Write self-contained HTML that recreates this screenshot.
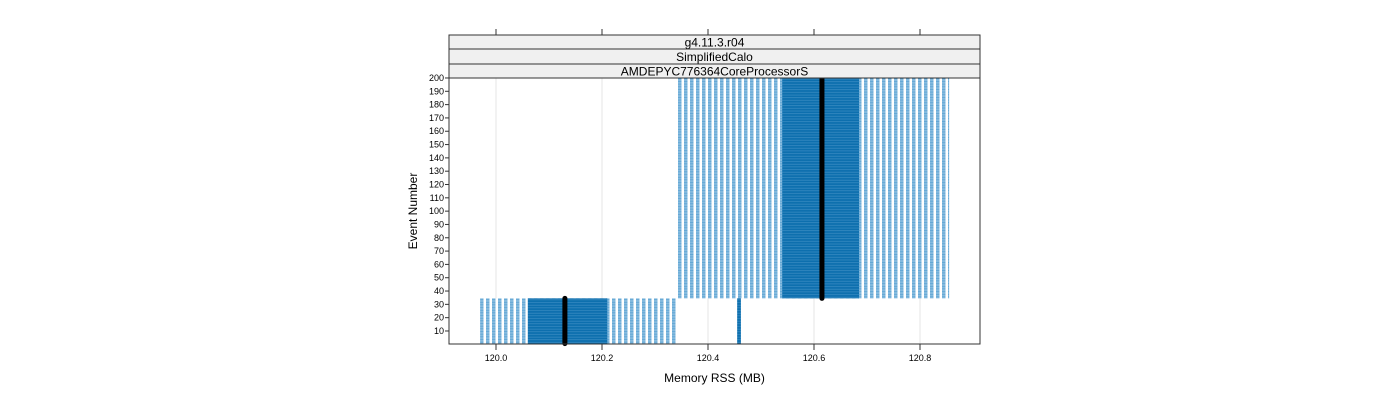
<!DOCTYPE html>
<html><head><meta charset="utf-8"><style>
body{margin:0;background:#fff;}
svg{display:block;font-family:"Liberation Sans",sans-serif;}
</style></head><body>
<svg id="chart" width="1400" height="400" viewBox="0 0 1400 400">
<defs>
<pattern id="wpat" patternUnits="userSpaceOnUse" width="6" height="2.66">
<rect width="6" height="2.66" fill="#ffffff"/>
<rect x="0" width="3.5" height="2.66" fill="#86bbdf"/>
<rect x="0" y="1.33" width="3.5" height="0.6" fill="#4f9ccf"/>
</pattern>
<pattern id="bpat" patternUnits="userSpaceOnUse" width="4" height="2.66">
<rect width="4" height="2.66" fill="#0d6fae"/>
<rect y="1.6" width="4" height="0.7" fill="#3d8ec4"/>
</pattern>
</defs>
<g id="grid"></g>
<g id="marks"></g>
<rect x="449" y="78" width="531" height="266" fill="none" stroke="#333" stroke-width="1"/>
<g>
<rect x="449" y="35" width="531" height="14" fill="#f0f0f0" stroke="#333"/>
<text x="714.5" y="46.5" font-size="12" text-anchor="middle">g4.11.3.r04</text>
<rect x="449" y="49" width="531" height="15" fill="#f0f0f0" stroke="#333"/>
<text x="714.5" y="61" font-size="12" text-anchor="middle">SimplifiedCalo</text>
<rect x="449" y="64" width="531" height="14" fill="#f0f0f0" stroke="#333"/>
<text x="714.5" y="75.5" font-size="12" text-anchor="middle">AMDEPYC776364CoreProcessorS</text>
</g>
<g id="axes"></g>
<text x="714.5" y="382" font-size="12" text-anchor="middle">Memory RSS (MB)</text>
<text transform="translate(417,211) rotate(-90)" font-size="12" text-anchor="middle">Event Number</text>
</svg>
<script>
const xTicks = [120.0, 120.2, 120.4, 120.6, 120.8];
const xTickLabels = ["120.0", "120.2", "120.4", "120.6", "120.8"];
const yTicks = [10,20,30,40,50,60,70,80,90,100,110,120,130,140,150,160,170,180,190,200];
const groupStart = [1, 35, 1];
const groupEnd = [34, 200, 34];
const whiskLow = [119.97, 120.34, 120.455];
const boxLow = [120.06, 120.54, 120.455];
const median = [120.13, 120.615, 120.458];
const boxHigh = [120.21, 120.685, 120.462];
const whiskHigh = [120.34, 120.855, 120.462];

const NS = "http://www.w3.org/2000/svg";
const X = v => 496 + (v - 120.0) * 530;
const Y = e => 344.3 - e * 1.3316;
function mk(tag, attrs, parent) {
  const el = document.createElementNS(NS, tag);
  for (const k in attrs) el.setAttribute(k, attrs[k]);
  parent.appendChild(el);
  return el;
}
const grid = document.getElementById('grid');
const axes = document.getElementById('axes');
const marks = document.getElementById('marks');
xTicks.forEach((t, i) => {
  const g = mk('line', {x1: X(t), x2: X(t), y1: 78, y2: 344, stroke: '#e6e6e6', 'stroke-width': 1}, grid);
  
  
  const tb = mk('line', {x1: X(t), x2: X(t), y1: 344, y2: 350, stroke: '#333'}, axes);
  
  
  const tt = mk('line', {x1: X(t), x2: X(t), y1: 29, y2: 35, stroke: '#333'}, axes);
  
  
  const lb = mk('text', {x: X(t), y: 361, 'font-size': 9, 'text-anchor': 'middle'}, axes);
  lb.textContent = xTickLabels[i];
  
  
});
yTicks.forEach(t => {
  const tk = mk('line', {x1: 445, x2: 449, y1: Y(t), y2: Y(t), stroke: '#333'}, axes);
  
  
  const lb = mk('text', {x: 444, y: Y(t) + 3, 'font-size': 9, 'text-anchor': 'end'}, axes);
  lb.textContent = String(t);
  
  
});
groupStart.forEach((s, i) => {
  const yTop = Y(groupEnd[i] + 0.5), yBot = Y(s - 0.5);
  const h = yBot - yTop;
  const w = mk('rect', {x: X(whiskLow[i]), y: yTop, width: Math.max(X(whiskHigh[i]) - X(whiskLow[i]), 1), height: h, fill: 'url(#wpat)'}, marks);
  
  
  const b = mk('rect', {x: X(boxLow[i]), y: yTop, width: Math.max(X(boxHigh[i]) - X(boxLow[i]), 3), height: h, fill: 'url(#bpat)'}, marks);
  
  
  if (i < 2) {
    const m = mk('line', {x1: X(median[i]), x2: X(median[i]), y1: yTop, y2: yBot, stroke: '#000', 'stroke-width': 5, 'stroke-linecap': 'round'}, marks);
    
    
  }
});
</script>
</body></html>
